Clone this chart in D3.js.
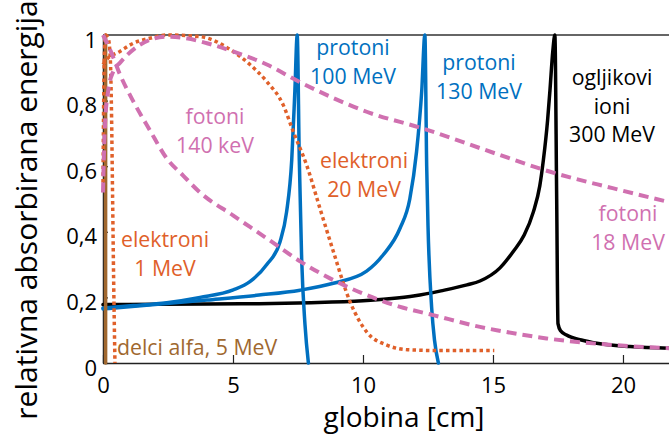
<!DOCTYPE html>
<html>
<head>
<meta charset="utf-8">
<script src="https://cdn.jsdelivr.net/npm/d3@7"></script>
<style>
  html, body { margin: 0; padding: 0; background: #fff; }
  svg { display: block; font-family: "Open Sans", Lato, sans-serif; }
</style>
</head>
<body>
<svg id="chart" width="669" height="435"></svg>
<script>
// ---- data (depth in cm, relative absorbed energy) ----
const xTicks = [0, 5, 10, 15, 20];
const xTickLabels = ["0", "5", "10", "15", "20"];
const yTicks = [0, 0.2, 0.4, 0.6, 0.8, 1];
const yTickLabels = ["0", "0,2", "0,4", "0,6", "0,8", "1"];

const alphaX = [0.1, 0.1];
const alphaY = [0, 1];

const e1X = [0, 0.02, 0.05, 0.1, 0.2, 0.28, 0.33, 0.37, 0.41, 0.46];
const e1Y = [0.55, 0.75, 0.93, 1.0, 0.99, 0.93, 0.75, 0.5, 0.25, 0.0];

const e20X = [0, 0.14, 0.65, 1.17, 1.8, 2.45, 3.73, 5.0, 5.65, 6.3, 6.93, 7.32, 7.83, 8.35, 8.86, 9.5, 10.14, 10.9, 11.8, 13, 15.05];
const e20Y = [0.91, 0.925, 0.95, 0.975, 0.99, 1.0, 0.995, 0.95, 0.91, 0.858, 0.787, 0.705, 0.604, 0.47, 0.34, 0.187, 0.095, 0.055, 0.04, 0.038, 0.038];

const p100X = [0, 1.17, 2.45, 3.73, 5.01, 5.65, 6.3, 6.81, 7.06, 7.26, 7.38, 7.47, 7.55, 7.64, 7.77, 7.9];
const p100Y = [0.168, 0.175, 0.184, 0.2, 0.223, 0.248, 0.3, 0.37, 0.46, 0.62, 0.83, 1.0, 0.62, 0.32, 0.116, 0.0];

const p130X = [0, 2, 4, 6, 7.58, 8.86, 10.14, 10.78, 11.42, 11.8, 12.06, 12.26, 12.38, 12.45, 12.5, 12.64, 12.75, 12.9];
const p130Y = [0.165, 0.178, 0.192, 0.207, 0.222, 0.243, 0.28, 0.33, 0.41, 0.5, 0.644, 0.83, 1.0, 0.6, 0.42, 0.17, 0.07, 0.0];

const cX = [0, 2, 4, 6, 8, 10, 11, 12, 13, 14, 14.5, 15.27, 15.78, 16.2, 16.55, 16.8, 16.94, 17.1, 17.19, 17.3, 17.38, 17.45, 17.5, 17.6, 17.83, 18.4, 18.99, 20.27, 21.8];
const cY = [0.178, 0.179, 0.18, 0.181, 0.184, 0.19, 0.196, 0.205, 0.22, 0.238, 0.25, 0.29, 0.34, 0.39, 0.46, 0.54, 0.62, 0.74, 0.83, 0.95, 1.0, 0.5, 0.12, 0.098, 0.085, 0.07, 0.06, 0.05, 0.045];

const f140X = [0, 0.3, 0.65, 1.15, 1.8, 2.45, 3.1, 3.73, 5.0, 6.3, 7.58, 8.73, 10.14, 11.4, 12.7, 14.5, 15.14, 17.06, 19.6, 21.8];
const f140Y = [1.0, 0.95, 0.88, 0.8, 0.71, 0.624, 0.57, 0.52, 0.45, 0.38, 0.31, 0.258, 0.207, 0.172, 0.146, 0.11, 0.1, 0.075, 0.055, 0.045];

const f18X = [0, 0.03, 0.08, 0.2, 0.4, 0.65, 1.42, 2.45, 3.2, 4.0, 5.0, 6.3, 7.58, 8.8, 10.14, 12.3, 15.27, 17.2, 19.6, 21.8];
const f18Y = [0.52, 0.62, 0.73, 0.83, 0.89, 0.915, 0.97, 0.995, 0.99, 0.975, 0.95, 0.91, 0.856, 0.81, 0.766, 0.715, 0.634, 0.583, 0.533, 0.49];

// ---- layout ----
const svg = d3.select("#chart");
const pLeft = 103, pRight = 669, pTop = 35, pBottom = 363;
const x = d3.scaleLinear().domain([0, 21.77]).range([pLeft, pRight]);
const y = d3.scaleLinear().domain([0, 1]).range([pBottom, pTop]);
const FONT = "'Open Sans', Lato, sans-serif";

const col = {
  blue: "#0070c0",
  orange: "#e0602a",
  pink: "#d070b0",
  brown: "#a0682f",
  black: "#000000"
};

svg.append("defs").append("clipPath").attr("id", "clip")
  .append("rect").attr("x", pLeft - 4).attr("y", pTop - 4)
  .attr("width", pRight - pLeft + 8).attr("height", pBottom - pTop + 6);

// top border
svg.append("line").attr("x1", pLeft).attr("x2", pRight).attr("y1", pTop).attr("y2", pTop)
  .attr("stroke", "#333").attr("stroke-width", 1.5);

// axes
const xAxis = d3.axisBottom(x).tickValues(xTicks)
  .tickFormat((d, i) => xTickLabels[i]).tickSize(-8).tickSizeOuter(0).tickPadding(14);
const gx = svg.append("g").attr("transform", `translate(0,${pBottom})`).call(xAxis);
gx.selectAll("text").attr("font-size", 22).attr("fill", "#000").attr("font-family", FONT);

const yAxis = d3.axisLeft(y).tickValues(yTicks)
  .tickFormat((d, i) => yTickLabels[i]).tickSize(-5).tickSizeOuter(0).tickPadding(6);
const gy = svg.append("g").attr("transform", `translate(${pLeft},0)`).call(yAxis);
gy.selectAll("text").attr("font-size", 22).attr("fill", "#000").attr("dy", "0.55em")
  .attr("font-family", FONT);

[gx, gy].forEach(g => {
  g.select(".domain").attr("stroke", "#222").attr("stroke-width", 1.5);
  g.selectAll(".tick line").attr("stroke", "#222").attr("stroke-width", 1.2);
});

// curves
const plot = svg.append("g").attr("clip-path", "url(#clip)");
function series(xs, ys) { return xs.map((v, i) => [v, ys[i]]); }
const lineM = d3.line().x(d => x(d[0])).y(d => y(d[1])).curve(d3.curveMonotoneX);
const lineL = d3.line().x(d => x(d[0])).y(d => y(d[1]));

function draw(data, gen, color, width, dash) {
  const p = plot.append("path").datum(data).attr("d", gen)
    .attr("fill", "none").attr("stroke", color).attr("stroke-width", width)
    .attr("stroke-linejoin", "round");
  if (dash) p.attr("stroke-dasharray", dash); else p.attr("stroke-linecap", "round");
  return p;
}

draw(series(cX, cY), lineM, col.black, 3.5);
draw(series(p100X, p100Y), lineM, col.blue, 3.5);
draw(series(p130X, p130Y), lineM, col.blue, 3.5);
draw(series(alphaX, alphaY), lineL, col.brown, 3.5);
draw(series(e20X, e20Y), lineM, col.orange, 3.5, "3.5,3.2");
draw(series(e1X, e1Y), lineM, col.orange, 3.5, "3.5,3.2");
draw(series(f140X, f140Y), lineM, col.pink, 4, "10,6");
draw(series(f18X, f18Y), lineM, col.pink, 4, "10,6");

// annotations
const labels = [
  { lines: ["fotoni", "140 keV"], x: 215, y: 124, color: col.pink },
  { lines: ["protoni", "100 MeV"], x: 353, y: 55, color: col.blue },
  { lines: ["protoni", "130 MeV"], x: 479, y: 70, color: col.blue },
  { lines: ["ogljikovi", "ioni", "300 MeV"], x: 612, y: 85, color: "#000" },
  { lines: ["elektroni", "20 MeV"], x: 364, y: 168, color: col.orange },
  { lines: ["fotoni", "18 MeV"], x: 628, y: 221, color: col.pink },
  { lines: ["elektroni", "1 MeV"], x: 165, y: 247, color: col.orange }
];
labels.forEach(l => {
  const t = svg.append("text").attr("text-anchor", "middle").attr("font-size", 21.3)
    .attr("font-family", FONT).attr("fill", l.color);
  l.lines.forEach((s, i) => {
    t.append("tspan").attr("x", l.x).attr("y", l.y + i * 28.5).text(s);
  });
});
svg.append("text").attr("x", 117).attr("y", 355).attr("font-size", 21.3)
  .attr("font-family", FONT).attr("fill", col.brown).text("delci alfa, 5 MeV");

// axis titles
svg.append("text").attr("x", 404).attr("y", 427).attr("text-anchor", "middle")
  .attr("font-family", FONT).attr("font-size", 28).attr("fill", "#000").text("globina [cm]");
svg.append("text").attr("transform", "translate(37,210) rotate(-90)")
  .attr("text-anchor", "middle").attr("font-family", FONT).attr("font-size", 30).attr("fill", "#000")
  .text("relativna absorbirana energija");
</script>
</body>
</html>
